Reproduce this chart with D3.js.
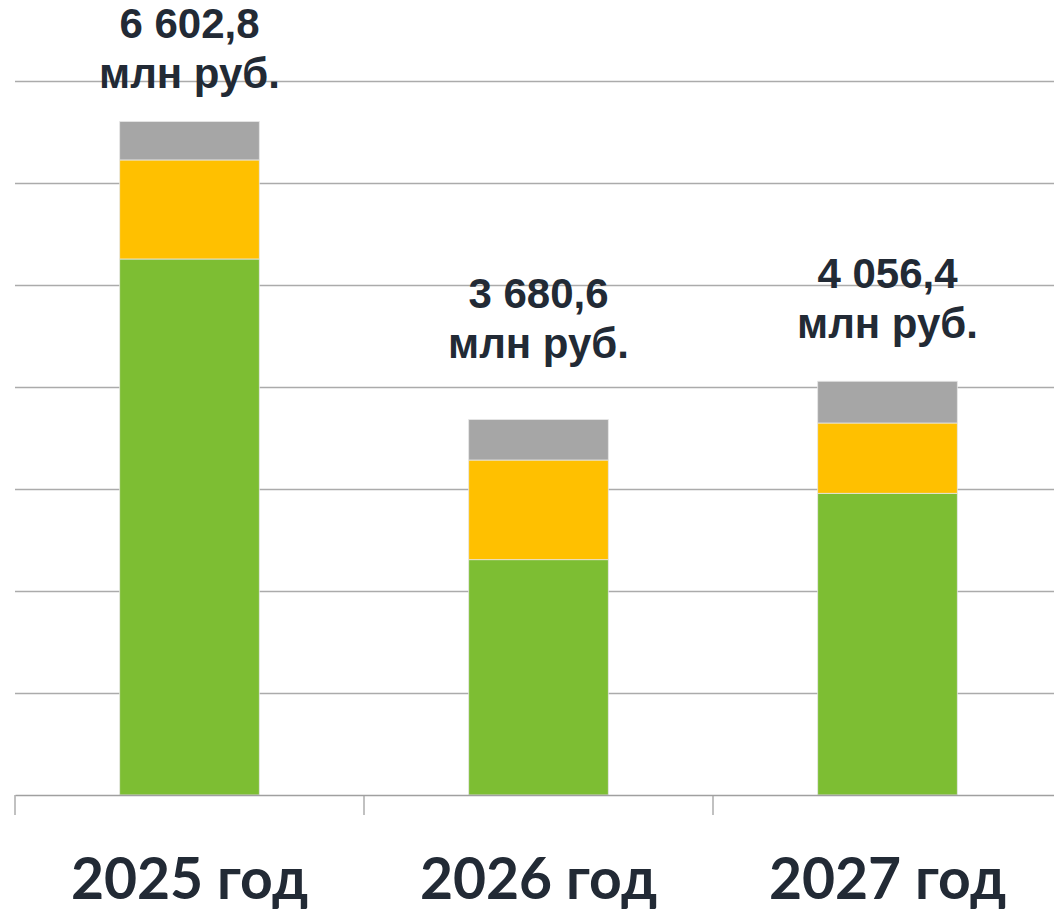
<!DOCTYPE html>
<html>
<head>
<meta charset="utf-8">
<script src="https://cdn.jsdelivr.net/npm/d3@7"></script>
<style>
    body { margin: 0; background: #fff; }
    .grid line { stroke: #ababab; stroke-width: 1.3; }
    .grid .domain { display: none; }
    .x-axis path, .x-axis line { stroke: #a0a0a0; stroke-width: 1.3; }
    .x-axis text { font-family: Lato, "Open Sans", sans-serif; font-weight: bold; font-size: 57px; fill: #222a35; }
    .total-label { font-family: "Liberation Sans", Arial, sans-serif; font-weight: bold; font-size: 42px; fill: #222a35; }
</style>
</head>
<body>
<div id="chart-area"></div>
<script>

// Data (млн руб.)
var years = ['2025 год', '2026 год', '2027 год'];
var seriesKeys = ['green', 'yellow', 'gray'];
var greenValues = [5255, 2307, 2958];
var yellowValues = [971, 977, 689];
var grayValues = [376.8, 396.6, 409.4];
var totalLabels = ['6 602,8', '3 680,6', '4 056,4'];
var yTicks = [0, 1000, 2000, 3000, 4000, 5000, 6000, 7000];

// label offsets above the bar tops (layout only)
var labelShift = [84, 112, 93];

var colors = { green: '#7dbe33', yellow: '#ffc000', gray: '#a6a6a6' };


/*
 * StackedBars - Object constructor function
 * @param _parentElement 	-- the HTML element in which to draw the visualization
 */

StackedBars = function(_parentElement){
    this.parentElement = _parentElement;
    this.displayData = [];

    this.initVis();
};

StackedBars.prototype.initVis = function(){
    var vis = this;

    vis.margin = { top: 81, right: 0, bottom: 115, left: 15 };

    vis.width = 1054 - vis.margin.left - vis.margin.right;
    vis.height = 910 - vis.margin.top - vis.margin.bottom;

    vis.svg = d3.select("#" + vis.parentElement).append("svg")
        .attr("width", 1054)
        .attr("height", 910)
        .style("display", "block")
        .append("g")
        .attr("transform", "translate(" + vis.margin.left + "," + vis.margin.top + ")");

    // each band is 349px, the third one runs off the right edge
    vis.x = d3.scaleBand()
        .domain(years)
        .range([0, 349 * years.length])
        .paddingInner(0)
        .paddingOuter(0);

    vis.y = d3.scaleLinear()
        .domain([0, 7000])
        .range([vis.height, 0]);

    // gridlines
    vis.svg.append('g')
        .attr('class', 'grid')
        .call(d3.axisLeft(vis.y).tickValues(yTicks.slice(1)).tickSize(-vis.width).tickFormat(''));

    vis.wrangleData();
};

StackedBars.prototype.wrangleData = function(){
    var vis = this;

    vis.displayData = years.map(function(year, i){
        return {
            year: year,
            green: greenValues[i],
            yellow: yellowValues[i],
            gray: grayValues[i],
            label: totalLabels[i]
        };
    });

    vis.stacked = d3.stack().keys(seriesKeys)(vis.displayData);

    vis.updateVis();
};

StackedBars.prototype.updateVis = function(){
    var vis = this;

    var barWidth = vis.x.bandwidth() * 0.4;

    var layers = vis.svg.selectAll('.layer')
        .data(vis.stacked)
        .enter()
        .append('g')
        .attr('class', 'layer')
        .attr('fill', function(d) { return colors[d.key]; });

    layers.selectAll('rect')
        .data(function(d) { return d; })
        .enter()
        .append('rect')
        .attr('x', function(d) { return vis.x(d.data.year) + (vis.x.bandwidth() - barWidth) / 2; })
        .attr('y', function(d) { return vis.y(d[1]); })
        .attr('width', barWidth)
        .attr('height', function(d) { return vis.y(d[0]) - vis.y(d[1]); })
        .attr('stroke', '#e6e6e6')
        .attr('stroke-width', 0.8);

    // x axis with ticks at the band edges
    var xAxis = vis.svg.append('g')
        .attr('class', 'x-axis')
        .attr('transform', 'translate(0,' + vis.height + ')')
        .call(d3.axisBottom(vis.x).tickSize(0).tickPadding(64).tickSizeOuter(0));

    xAxis.selectAll('.sep')
        .data(years)
        .enter()
        .append('line')
        .attr('class', 'sep')
        .attr('x1', function(d) { return vis.x(d); })
        .attr('x2', function(d) { return vis.x(d); })
        .attr('y1', 0)
        .attr('y2', 20);

    // total labels (two lines)
    var labels = vis.svg.selectAll('.total-label')
        .data(vis.displayData)
        .enter()
        .append('text')
        .attr('class', 'total-label')
        .attr('text-anchor', 'middle')
        .attr('transform', function(d, i) {
            var total = d.green + d.yellow + d.gray;
            return 'translate(' + (vis.x(d.year) + vis.x.bandwidth() / 2) + ',' + (vis.y(total) - labelShift[i]) + ')';
        });

    labels.append('tspan')
        .attr('x', 0)
        .attr('y', 0)
        .text(function(d) { return d.label; });

    labels.append('tspan')
        .attr('x', 0)
        .attr('dy', 50)
        .text('млн руб.');
};

new StackedBars('chart-area');

</script>
</body>
</html>
